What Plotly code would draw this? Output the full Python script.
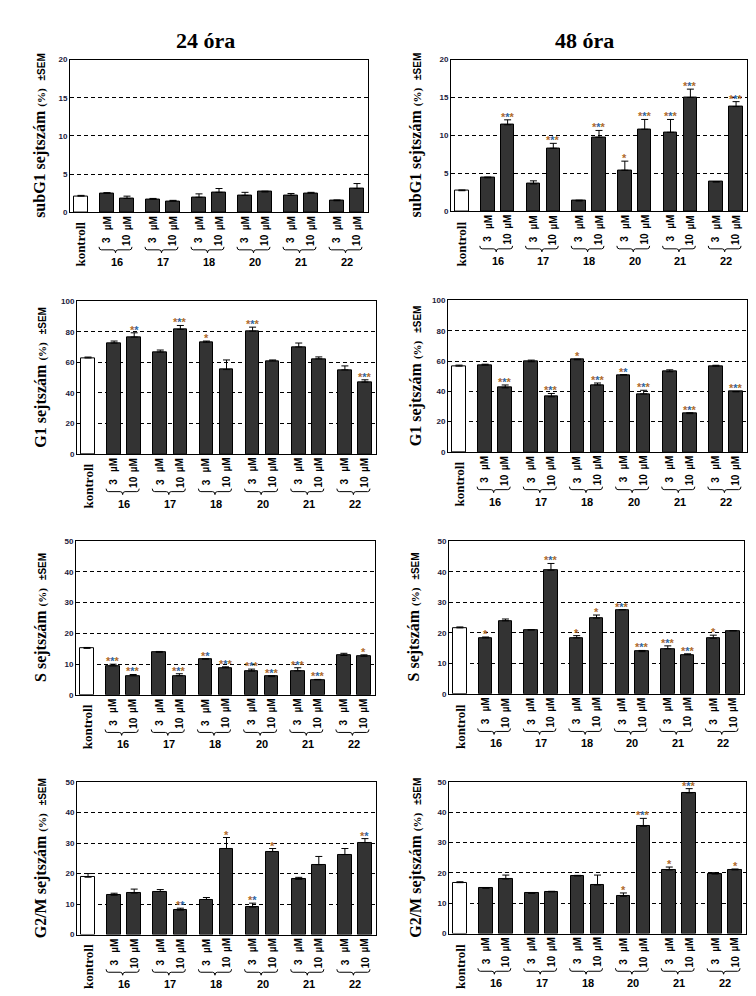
import plotly.graph_objects as go

W, H = 756, 996

groups = ["16", "17", "18", "20", "21", "22"]
doses = ["3", "10"]
bar_labels = ["kontroll"] + [f"{g}-{d}" for g in groups for d in doses]

# ---- data (value, SEM, significance) ----
subg1_24_val = [2.1, 2.5, 1.8, 1.7, 1.45, 1.95, 2.6, 2.2, 2.65, 2.2, 2.5, 1.5, 3.1]
subg1_24_err = [0.1, 0.05, 0.3, 0.1, 0.1, 0.45, 0.5, 0.4, 0.1, 0.25, 0.1, 0.1, 0.65]
subg1_24_sig = ["", "", "", "", "", "", "", "", "", "", "", "", ""]

subg1_48_val = [2.7, 4.4, 11.4, 3.6, 8.3, 1.35, 9.75, 5.4, 10.8, 10.4, 15.0, 3.85, 13.8]
subg1_48_err = [0.1, 0.1, 0.65, 0.4, 0.65, 0.1, 0.9, 1.2, 1.3, 1.7, 1.1, 0.05, 0.65]
subg1_48_sig = ["", "", "***", "", "***", "", "***", "*", "***", "***", "***", "", "***"]

g1_24_val = [62.9, 72.7, 76.6, 66.8, 81.6, 73.3, 55.3, 80.5, 61.0, 70.1, 62.3, 55.1, 47.1]
g1_24_err = [0.6, 1.3, 2.8, 1.3, 2.6, 0.7, 6.3, 2.6, 0.6, 2.6, 1.3, 2.6, 1.5]
g1_24_sig = ["", "", "**", "", "***", "*", "", "***", "", "", "", "", "***"]

g1_48_val = [56.6, 57.3, 42.3, 59.5, 36.4, 60.8, 44.2, 50.8, 38.3, 52.9, 25.3, 56.6, 39.7]
g1_48_err = [0.7, 0.6, 1.9, 1.1, 2.2, 0.4, 1.3, 0.2, 2.4, 1.3, 0.6, 0.6, 0.2]
g1_48_sig = ["", "", "***", "", "***", "*", "***", "**", "***", "", "***", "", "***"]

s_24_val = [15.1, 9.4, 6.2, 13.8, 6.2, 11.6, 8.8, 7.7, 5.9, 7.8, 4.9, 12.8, 12.55]
s_24_err = [0.3, 0.55, 0.4, 0.3, 0.65, 0.1, 0.3, 0.65, 0.3, 1.0, 0.1, 0.7, 0.45]
s_24_sig = ["", "***", "***", "", "***", "**", "***", "***", "***", "***", "***", "", "*"]

s_48_val = [21.6, 18.3, 23.9, 20.9, 40.5, 18.3, 24.8, 27.5, 13.8, 14.75, 12.8, 18.2, 20.6]
s_48_err = [0.3, 0.3, 0.6, 0.1, 2.2, 0.75, 1.0, 0.1, 0.4, 0.95, 0.3, 1.0, 0.1]
s_48_sig = ["", "*", "", "", "***", "*", "*", "***", "***", "***", "***", "*", ""]

g2m_24_val = [18.8, 12.9, 13.6, 14.1, 8.0, 11.5, 28.2, 9.0, 27.2, 18.1, 22.9, 26.2, 30.15]
g2m_24_err = [1.2, 0.65, 1.3, 0.65, 0.65, 0.65, 3.6, 1.3, 1.0, 0.65, 2.7, 2.0, 1.3]
g2m_24_sig = ["", "", "", "", "**", "", "*", "**", "*", "", "", "", "**"]

g2m_48_val = [16.8, 15.0, 18.0, 13.3, 13.75, 19.0, 16.05, 12.3, 35.4, 21.0, 46.4, 19.65, 21.0]
g2m_48_err = [0.3, 0.05, 1.3, 0.05, 0.2, 0.2, 3.25, 1.1, 2.6, 0.95, 1.4, 0.45, 0.3]
g2m_48_sig = ["", "", "", "", "", "", "", "*", "***", "*", "***", "", "*"]

col_titles = ["24 óra", "48 óra"]
row_titles = ["subG1 sejtszám", "G1 sejtszám", "S sejtszám", "G2/M sejtszám"]
y_max = [20, 100, 50, 50]
y_dtick = [5, 20, 10, 10]

# panel pixel boxes: (left, right, top, bottom), title x center
panels = [
    (subg1_24_val, subg1_24_err, subg1_24_sig, 0, (62, 360, 48, 202), 32),
    (subg1_48_val, subg1_48_err, subg1_48_sig, 0, (443, 739, 48, 201), 408),
    (g1_24_val, g1_24_err, g1_24_sig, 1, (69, 368, 292, 446), 33),
    (g1_48_val, g1_48_err, g1_48_sig, 1, (440, 739, 291, 444), 408),
    (s_24_val, s_24_err, s_24_sig, 2, (68, 367, 534, 689), 33),
    (s_48_val, s_48_err, s_48_sig, 2, (441, 736, 534, 688), 406),
    (g2m_24_val, g2m_24_err, g2m_24_sig, 3, (69, 368, 777, 931), 33),
    (g2m_48_val, g2m_48_err, g2m_48_sig, 3, (441, 738, 777, 930), 408),
]

# bar slot positions (layout): kontroll, then pairs per group
x_pos = [0.0] + [1.3 + 2.3 * g + d for g in range(len(groups)) for d in range(len(doses))]
XR = [-0.55, 14.35]

SANS = "Liberation Sans"
SERIF = "Liberation Serif"
STAR_COLS = ["#b06a2a", "#2e66a6", "#b06a2a"]


def py(px):
    return 1 - px / H


def stars(s):
    return "".join(f"<span style='color:{STAR_COLS[i % 3]}'>*</span>" for i in range(len(s)))


fig = go.Figure()
annotations = []
shapes = []
layout_axes = {}

for k, (vals, errs, sigs, row, (l, r, t, b), tx) in enumerate(panels, start=1):
    xa = "x" if k == 1 else f"x{k}"
    ya = "y" if k == 1 else f"y{k}"
    colors = ["white"] + ["#333333"] * (len(vals) - 1)
    fig.add_trace(go.Bar(
        x=x_pos, y=vals, width=0.68, xaxis=xa, yaxis=ya,
        marker=dict(color=colors, line=dict(color="black", width=1)),
        error_y=dict(type="data", array=errs, arrayminus=[0] * len(errs), symmetric=False,
                     color="black", thickness=1, width=3.5),
        showlegend=False, hoverinfo="skip",
    ))
    xkey = "xaxis" if k == 1 else f"xaxis{k}"
    ykey = "yaxis" if k == 1 else f"yaxis{k}"
    layout_axes[xkey] = dict(domain=[l / W, r / W], range=XR, anchor=ya, showticklabels=False,
                             showgrid=False, zeroline=False, showline=True, mirror=True,
                             linecolor="black", linewidth=1, ticks="", fixedrange=True)
    layout_axes[ykey] = dict(domain=[py(b), py(t)], range=[0, y_max[row]], dtick=y_dtick[row],
                             anchor=xa, showgrid=True, gridcolor="black", griddash="4px,3px",
                             gridwidth=1, zeroline=False, showline=True, mirror=True,
                             linecolor="black", linewidth=1, ticks="",
                             tickfont=dict(family=SANS, size=8, color="#1a1a3a", weight="bold"))

    # significance stars
    for i, s in enumerate(sigs):
        if s:
            annotations.append(dict(x=x_pos[i], y=vals[i] + errs[i], xref=xa, yref=ya,
                                    text=stars(s), showarrow=False, yanchor="bottom",
                                    yshift=-5, font=dict(family=SANS, size=11, weight="bold")))

    # x labels
    annotations.append(dict(x=x_pos[0], y=py(b + 8), xref=xa, yref="paper", text="<b>kontroll</b>",
                            textangle=-90, showarrow=False, yanchor="top", xanchor="center",
                            font=dict(family=SERIF, size=13, color="black")))
    for gi, g in enumerate(groups):
        for di, d in enumerate(doses):
            xi = x_pos[1 + gi * 2 + di]
            annotations.append(dict(x=xi, y=py(b + 2), xref=xa, yref="paper", text="<b>µM</b>",
                                    textangle=-90, showarrow=False, yanchor="top",
                                    font=dict(family=SANS, size=10, color="black")))
            annotations.append(dict(x=xi, y=py(b + 28), xref=xa, yref="paper", text=f"<b>{d}</b>",
                                    textangle=-90, showarrow=False, yanchor="middle",
                                    font=dict(family=SANS, size=10, color="black")))
        xl = x_pos[1 + gi * 2] - 0.4
        xr = x_pos[2 + gi * 2] + 0.25
        xc = (xl + xr) / 2
        yl, yt, yd = py(b + 38), py(b + 35), py(b + 41)
        path = (f"M {xl},{yt} Q {xl},{yl} {xl + 0.12},{yl} L {xc - 0.12},{yl} "
                f"Q {xc},{yl} {xc},{yd} Q {xc},{yl} {xc + 0.12},{yl} "
                f"L {xr - 0.12},{yl} Q {xr},{yl} {xr},{yt}")
        shapes.append(dict(type="path", path=path, xref=xa, yref="paper",
                           line=dict(color="black", width=1)))
        annotations.append(dict(x=(x_pos[1 + gi * 2] + x_pos[2 + gi * 2]) / 2, y=py(b + 50), xref=xa,
                                yref="paper", text=f"<b>{g}</b>", showarrow=False, yanchor="middle",
                                font=dict(family=SANS, size=11, color="black")))

    # y title
    ytxt = (f"<b>{row_titles[row]} <span style='font-size:11px'>(%)</span>  "
            f"<span style='font-family:{SANS};font-size:10px'>±SEM</span></b>")
    annotations.append(dict(x=tx / W, y=py((t + b) / 2), xref="paper", yref="paper", text=ytxt,
                            textangle=-90, showarrow=False, xanchor="center", yanchor="middle",
                            font=dict(family=SERIF, size=16, color="black")))

# column titles
annotations.append(dict(x=197 / W, y=py(29), xref="paper", yref="paper", text=f"<b>{col_titles[0]}</b>",
                        showarrow=False, xanchor="center", yanchor="middle",
                        font=dict(family=SERIF, size=22, color="black")))
annotations.append(dict(x=576 / W, y=py(29), xref="paper", yref="paper", text=f"<b>{col_titles[1]}</b>",
                        showarrow=False, xanchor="center", yanchor="middle",
                        font=dict(family=SERIF, size=22, color="black")))

fig.update_layout(width=W, height=H, margin=dict(l=0, r=0, t=0, b=0), autosize=False,
                  paper_bgcolor="white", plot_bgcolor="white", bargap=0,
                  annotations=annotations, shapes=shapes, **layout_axes)

fig.write_html("out.html")
